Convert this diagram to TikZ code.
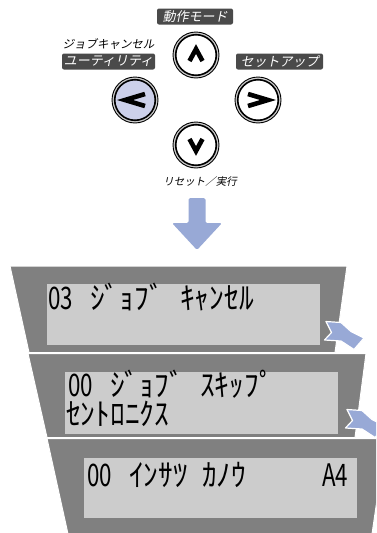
\documentclass[tikz,border=0pt]{standalone}
\usepackage{fontspec}
\newfontfamily\jpit[FakeSlant=0.2]{Noto Sans CJK JP}
\newfontfamily\lcdkana[FakeStretch=0.95]{Noto Sans CJK JP}
\newfontfamily\lcdnum[FakeStretch=0.72]{Noto Sans CJK JP}
\newcommand\dgt[1]{{\lcdnum\fontsize{31}{31}\selectfont #1}}
\definecolor{panelc}{HTML}{808080}
\definecolor{lcdc}{HTML}{CCCCCC}
\definecolor{arrowc}{HTML}{98A9D6}
\definecolor{lavc}{HTML}{CCD0EA}
\definecolor{tagc}{HTML}{4A4A4A}
\tikzset{
  btn/.style={circle, draw=black, line width=0.9pt, fill=gray!40, minimum size=46pt, inner sep=0pt},
  btninner/.style={draw=black, line width=1.6pt, fill=#1},
  chev/.style={line width=4.6pt, line cap=butt, line join=miter},
  tag/.style={fill=tagc, rounded corners=2pt, text=white, font=\jpit\fontsize{13}{13}\selectfont, minimum height=16pt, inner sep=1pt},
  plain/.style={text=black, font=\jpit\fontsize{11.5}{11.5}\selectfont, inner sep=0pt},
  panel/.style={fill=panelc, draw=white, line width=1pt},
  lcd/.style={fill=lcdc},
  lcdtext/.style={anchor=base west, inner sep=0pt, font=\lcdkana\fontsize{31}{31}\selectfont},
  zig/.pic={
    \filldraw[fill=arrowc, draw=white, line width=1.2pt, line join=round]
      (326,321.5) -- (341,322.5) -- (351,331.5) -- (364,338) -- (354,349.5)
      -- (341,341) -- (324.5,340) -- (331.5,332.5) -- cycle;
  }
}
\begin{document}
\begin{tikzpicture}[x=1pt,y=-1pt]
\useasboundingbox (0,0) rectangle (376,533);
\fill[white] (0,0) rectangle (376,533);
\begin{scope}
\clip (0,0) rectangle (376,533);
% buttons
\node[btn] (up) at (196,55) {};
\node[btn] (left) at (135,100) {};
\node[btn] (right) at (258,100) {};
\node[btn] (down) at (196,145) {};
\draw[btninner=white] (up.center) circle[radius=20.3pt];
\draw[btninner=lavc] (left.center) circle[radius=20.3pt];
\draw[btninner=white] (right.center) circle[radius=20.3pt];
\draw[btninner=white] (down.center) circle[radius=20.3pt];
\draw[chev] (up.center) ++(-6.5,6) -- ++(6.5,-12) -- ++(6.5,12);
\draw[chev] (down.center) ++(-6.5,-6) -- ++(6.5,12) -- ++(6.5,-12);
\draw[chev] (left.center) ++(10,-6) -- ++(-20,6) -- ++(20,6);
\draw[chev] (right.center) ++(-10,-6) -- ++(20,6) -- ++(-20,6);
% labels
\node[tag, minimum width=76pt] (mode) at (195,16.5) {動作モード};
\node[plain] (jobc) at (108.5,44) {ジョブキャンセル};
\node[tag, minimum width=93pt] (util) at (108.5,61.5) {ユーティリティ};
\node[tag, minimum width=87pt] (setup) at (279.5,61.5) {セットアップ};
\node[plain, font=\jpit\fontsize{10.5}{10.5}\selectfont] (reset) at (200,182) {リセット／実行};
% big arrow
\fill[arrowc, rounded corners=1.5pt] (188.5,198) -- (205.5,198) -- (205.5,223) -- (222,223) -- (197,250) -- (172,223) -- (188.5,223) -- cycle;
% panels
\draw[panel] (10,266) -- (347,266) -- (335,352.5) -- (29,352.5) -- cycle;
\fill[lcd] (47,284) rectangle (320,345);
\draw[panel] (28,353.5) -- (366,353.5) -- (355,437.5) -- (47,437.5) -- cycle;
\fill[lcd] (65,372) rectangle (338,434);
\draw[panel] (47,438.5) -- (386,438.5) -- (372,534) -- (68,534) -- cycle;
\fill[lcd] (84,458) rectangle (357,518);
% texts
\node[lcdtext] (l1) at (48,309) {\makebox[42pt][l]{\dgt{03}}\makebox[90pt][l]{ｼﾞｮﾌﾞ}ｷｬﾝｾﾙ};
\node[lcdtext] (l2a) at (68,396.5) {\makebox[42pt][l]{\dgt{00}}\makebox[90pt][l]{ｼﾞｮﾌﾞ}ｽｷｯﾌﾟ};
\node[lcdtext] (l2b) at (66,425) {ｾﾝﾄﾛﾆｸｽ};
\node[lcdtext] (l3) at (87,486) {\makebox[42pt][l]{\dgt{00}}\makebox[73pt][l]{ｲﾝｻﾂ}\makebox[120pt][l]{ｶﾉｳ}\dgt{A4}};
% small arrows
\pic {zig};
\pic[shift={(21,88)}] {zig};
\end{scope}
\end{tikzpicture}
\end{document}
